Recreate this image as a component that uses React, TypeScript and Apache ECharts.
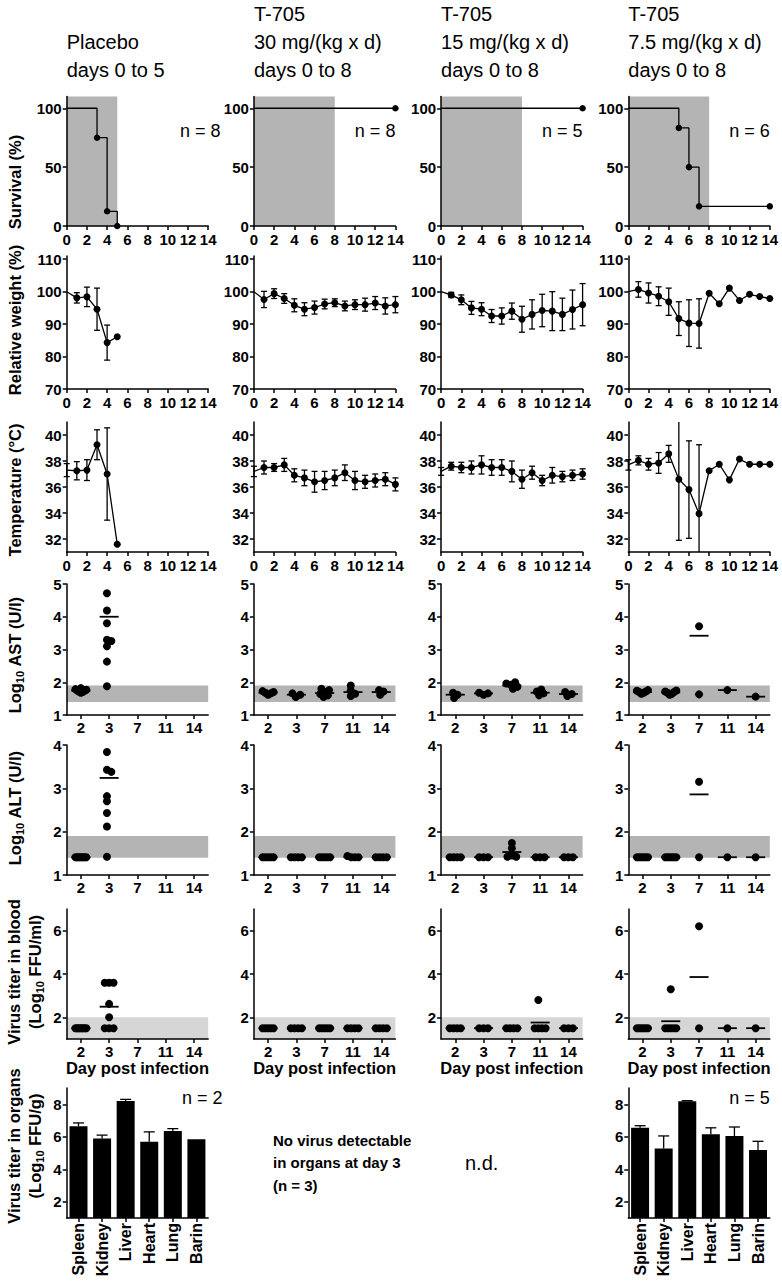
import React, { useEffect, useRef } from 'react';
import * as echarts from 'echarts';

const FONT = "'Liberation Sans', Arial, Helvetica, sans-serif";

// ---------------- data ----------------
const HEADERS = [
  ['Placebo', 'days 0 to 5'],
  ['T-705', '30 mg/(kg x d)', 'days 0 to 8'],
  ['T-705', '15 mg/(kg x d)', 'days 0 to 8'],
  ['T-705', '7.5 mg/(kg x d)', 'days 0 to 8'],
];
const GROUP_N = [8, 8, 5, 6];
const TREATMENT_END_DAY = [5, 8, 8, 8];

const SURVIVAL_PLACEBO = [[0, 100], [3, 75], [4, 12.5], [5, 0]];
const SURVIVAL_30 = [[0, 100], [14, 100]];
const SURVIVAL_15 = [[0, 100], [14, 100]];
const SURVIVAL_7_5 = [[0, 100], [5, 83.3], [6, 50], [7, 16.7], [14, 16.7]];

const DAYS_PLACEBO = [0, 1, 2, 3, 4, 5];
const DAYS_TREATED = [0, 1, 2, 3, 4, 5, 6, 7, 8, 9, 10, 11, 12, 13, 14];

const WEIGHT_PLACEBO = [100, 98.1, 98.4, 94.6, 84.3, 86.1];
const WEIGHT_PLACEBO_SD = [null, 1.6, 3.0, 6.5, 5.4, null];
const WEIGHT_30 = [100, 97.6, 99.4, 97.9, 95.8, 94.6, 95.1, 96.2, 96.6, 95.6, 96.0, 96.0, 96.5, 95.6, 96.0];
const WEIGHT_30_SD = [null, 2.5, 1.5, 1.5, 2.0, 2.0, 2.0, 1.5, 1.2, 1.5, 1.5, 2.0, 2.0, 2.5, 2.5];
const WEIGHT_15 = [100, 99.0, 97.5, 95.0, 94.6, 92.5, 92.5, 94.0, 91.5, 93.0, 94.2, 94.0, 93.0, 94.5, 96.0];
const WEIGHT_15_SD = [null, 0.8, 1.5, 2.0, 2.0, 2.0, 2.5, 2.5, 4.0, 4.5, 5.0, 6.0, 5.0, 6.0, 6.5];
const WEIGHT_7_5 = [100, 100.7, 99.6, 98.6, 96.9, 91.7, 90.3, 90.2, 99.5, 96.3, 101.1, 97.3, 99.2, 98.5, 97.9];
const WEIGHT_7_5_SD = [null, 2.4, 3.1, 2.9, 4.2, 5.2, 7.2, 7.6, null, null, null, null, null, null, null];

const TEMP_PLACEBO = [37.3, 37.25, 37.3, 39.25, 37.0, 31.6];
const TEMP_PLACEBO_SD = [0.5, 0.7, 0.8, 1.15, 3.55, null];
const TEMP_30 = [37.2, 37.5, 37.5, 37.7, 36.9, 36.7, 36.4, 36.5, 36.7, 37.1, 36.5, 36.4, 36.5, 36.6, 36.2];
const TEMP_30_SD = [0.4, 0.5, 0.3, 0.5, 0.5, 0.6, 0.8, 0.7, 0.6, 0.6, 0.7, 0.5, 0.5, 0.5, 0.5];
const TEMP_15 = [37.2, 37.6, 37.5, 37.5, 37.7, 37.5, 37.5, 37.2, 36.6, 37.1, 36.5, 36.9, 36.8, 36.9, 37.0];
const TEMP_15_SD = [0.3, 0.3, 0.4, 0.5, 0.7, 0.6, 0.6, 0.8, 0.7, 0.5, 0.4, 0.6, 0.4, 0.4, 0.4];
const TEMP_7_5 = [37.7, 38.05, 37.75, 37.85, 38.55, 36.6, 35.8, 33.95, 37.25, 37.75, 36.55, 38.15, 37.75, 37.75, 37.75];
const TEMP_7_5_SD = [0.4, 0.35, 0.45, 0.8, 0.65, 4.7, 3.75, 5.3, null, null, null, null, null, null, null];

const SAMPLE_DAYS = ['2', '3', '7', '11', '14'];

const AST_PLACEBO = [
  [1.68, 1.70, 1.72, 1.74, 1.75, 1.77, 1.79, 1.82],
  [4.72, 4.19, 3.80, 3.30, 3.26, 3.10, 2.63, 1.88],
  [], [], [],
];
const AST_PLACEBO_MEAN = [1.74, 4.0, null, null, null];
const AST_30 = [
  [1.62, 1.66, 1.68, 1.70, 1.73],
  [1.55, 1.62, 1.66],
  [1.55, 1.60, 1.64, 1.70, 1.76, 1.80],
  [1.58, 1.65, 1.75, 1.90],
  [1.62, 1.72, 1.76],
];
const AST_30_MEAN = [1.68, 1.62, 1.67, 1.70, 1.70];
const AST_15 = [
  [1.52, 1.62, 1.68],
  [1.62, 1.66, 1.68],
  [1.80, 1.86, 1.92, 1.96, 2.0],
  [1.60, 1.66, 1.72, 1.78],
  [1.58, 1.64, 1.70],
];
const AST_15_MEAN = [1.62, 1.66, 1.90, 1.68, 1.64];
const AST_7_5 = [
  [1.65, 1.68, 1.70, 1.72, 1.74, 1.76],
  [1.62, 1.65, 1.68, 1.70, 1.72, 1.75],
  [3.71, 1.63],
  [1.76],
  [1.56],
];
const AST_7_5_MEAN = [1.70, 1.69, 3.42, 1.76, 1.56];

const ALT_PLACEBO = [
  [1.41, 1.41, 1.41, 1.41, 1.41, 1.41, 1.41, 1.41],
  [3.84, 3.43, 3.38, 2.82, 2.70, 2.43, 2.12, 1.42],
  [], [], [],
];
const ALT_PLACEBO_MEAN = [1.41, 3.24, null, null, null];
const ALT_30 = [
  [1.41, 1.41, 1.41, 1.41, 1.41],
  [1.41, 1.41, 1.41, 1.41],
  [1.41, 1.41, 1.41, 1.41, 1.41],
  [1.41, 1.41, 1.44, 1.41],
  [1.41, 1.41, 1.41, 1.41],
];
const ALT_30_MEAN = [1.41, 1.41, 1.41, 1.41, 1.41];
const ALT_15 = [
  [1.41, 1.41, 1.41, 1.41],
  [1.41, 1.41, 1.41],
  [1.74, 1.62, 1.45, 1.42, 1.42],
  [1.41, 1.41, 1.41],
  [1.41, 1.41, 1.41],
];
const ALT_15_MEAN = [1.41, 1.41, 1.53, 1.41, 1.41];
const ALT_7_5 = [
  [1.41, 1.41, 1.41, 1.41, 1.41, 1.41],
  [1.41, 1.41, 1.41, 1.41, 1.41, 1.41],
  [3.15, 1.41],
  [1.41],
  [1.41],
];
const ALT_7_5_MEAN = [1.41, 1.41, 2.86, 1.41, 1.41];

const BLOOD_PLACEBO = [
  [1.5, 1.5, 1.5, 1.5, 1.5, 1.5, 1.5, 1.5],
  [3.6, 3.6, 3.6, 2.62, 2.0, 1.5, 1.5, 1.5],
  [], [], [],
];
const BLOOD_PLACEBO_MEAN = [1.5, 2.49, null, null, null];
const BLOOD_30 = [
  [1.5, 1.5, 1.5, 1.5, 1.5],
  [1.5, 1.5, 1.5, 1.5],
  [1.5, 1.5, 1.5, 1.5, 1.5],
  [1.5, 1.5, 1.5, 1.5],
  [1.5, 1.5, 1.5, 1.5],
];
const BLOOD_30_MEAN = [1.5, 1.5, 1.5, 1.5, 1.5];
const BLOOD_15 = [
  [1.5, 1.5, 1.5, 1.5],
  [1.5, 1.5, 1.5],
  [1.5, 1.5, 1.5, 1.5],
  [2.8, 1.5, 1.5, 1.5, 1.5],
  [1.5, 1.5, 1.5],
];
const BLOOD_15_MEAN = [1.5, 1.5, 1.5, 1.76, 1.5];
const BLOOD_7_5 = [
  [1.5, 1.5, 1.5, 1.5, 1.5, 1.5],
  [3.3, 1.5, 1.5, 1.5, 1.5, 1.5],
  [6.2, 1.5],
  [1.5],
  [1.5],
];
const BLOOD_7_5_MEAN = [1.5, 1.82, 3.86, 1.5, 1.5];

const ORGANS = ['Spleen', 'Kidney', 'Liver', 'Heart', 'Lung', 'Barin'];
const ORGAN_PLACEBO = [6.65, 5.9, 8.2, 5.7, 6.35, 5.85];
const ORGAN_PLACEBO_SD = [0.2, 0.2, 0.1, 0.6, 0.15, 0];
const ORGAN_7_5 = [6.56, 5.28, 8.18, 6.15, 6.05, 5.18];
const ORGAN_7_5_SD = [0.12, 0.77, 0.04, 0.4, 0.55, 0.54];
const ORGAN_N = [2, null, null, 5];

// ---------------- layout ----------------
const COL_X = [66.7, 253.9, 441.1, 628.3];
const PLOT_W = 141.5;
const ROW: Record<string, { top: number; h: number }> = {
  surv: { top: 96.5, h: 129.5 },
  weight: { top: 256, h: 133 },
  temp: { top: 422, h: 130 },
  ast: { top: 584, h: 131 },
  alt: { top: 745, h: 130 },
  blood: { top: 909, h: 130 },
  organ: { top: 1088, h: 130 },
};

function swarm(vals: number[], pxPerY: number): number[] {
  const c = 4.4;
  const placed: { x: number; y: number }[] = [];
  const out: number[] = [];
  for (const v of vals) {
    const y = v * pxPerY;
    let best = 0;
    for (let k = 0; k < 80; k++) {
      const cand = k === 0 ? 0 : (k % 2 ? 1 : -1) * Math.ceil(k / 2) * (c / 4);
      if (placed.every((p) => Math.hypot(p.x - cand, p.y - y) >= c - 1e-6)) {
        best = cand;
        break;
      }
    }
    placed.push({ x: best, y });
    out.push(best);
  }
  if (!out.length) return out;
  const mx = Math.max(...out);
  const mn = Math.min(...out);
  const span = mx - mn;
  const f = span > 11 ? 11 / span : 1;
  const mid = (mx + mn) / 2;
  return out.map((x) => (x - mid) * f);
}

function buildOption() {
  const grid: any[] = [];
  const xAxis: any[] = [];
  const yAxis: any[] = [];
  const series: any[] = [];
  const graphic: any[] = [];

  const mkAxis = (extra: any, labelExtra: any, tickExtra: any = {}) => ({
    axisLine: { show: true, onZero: false, lineStyle: { color: '#000', width: 1.5 } },
    axisTick: { show: true, length: 4, lineStyle: { color: '#000', width: 1.5 }, ...tickExtra },
    axisLabel: { show: true, color: '#000', fontFamily: FONT, fontWeight: 'bold', fontSize: 15, ...labelExtra },
    splitLine: { show: false },
    z: 10,
    ...extra,
  });
  const dayX = () => mkAxis({ type: 'value', min: 0, max: 14, interval: 2 }, { margin: 6 });
  const sampleX = () =>
    mkAxis(
      { type: 'value', min: -0.5, max: 4.5 },
      { margin: 5, customValues: [0, 1, 2, 3, 4], formatter: (v: number) => SAMPLE_DAYS[Math.round(v)] },
      { customValues: [0, 1, 2, 3, 4] }
    );
  const valY = (min: number, max: number, ticks: number[]) =>
    mkAxis({ type: 'value', min, max }, { margin: 5, customValues: ticks }, { customValues: ticks });

  const addGrid = (col: number, row: string, xa: any, ya: any) => {
    const i = grid.length;
    grid.push({ left: COL_X[col], top: ROW[row].top, width: PLOT_W, height: ROW[row].h, containLabel: false });
    xAxis.push({ gridIndex: i, ...xa });
    yAxis.push({ gridIndex: i, ...ya });
    return i;
  };

  const rectRender = (color: string) => (params: any, api: any) => {
    const p1 = api.coord([api.value(0), api.value(3)]);
    const p2 = api.coord([api.value(1), api.value(2)]);
    return { type: 'rect', shape: { x: p1[0], y: p1[1], width: p2[0] - p1[0], height: p2[1] - p1[1] }, style: { fill: color } };
  };
  const errRender = (yMin: number, yMax: number, capHalf: number, upOnly: boolean) => (params: any, api: any) => {
    const x = api.value(0);
    const lo = api.value(1);
    const hi = api.value(2);
    const a = api.coord([x, Math.max(lo, yMin)]);
    const b = api.coord([x, Math.min(hi, yMax)]);
    const st = { stroke: '#000', lineWidth: 1.3 };
    const ch: any[] = [{ type: 'line', shape: { x1: a[0], y1: a[1], x2: b[0], y2: b[1] }, style: st }];
    if (!upOnly && lo >= yMin) ch.push({ type: 'line', shape: { x1: a[0] - capHalf, y1: a[1], x2: a[0] + capHalf, y2: a[1] }, style: st });
    if (hi <= yMax) ch.push({ type: 'line', shape: { x1: b[0] - capHalf, y1: b[1], x2: b[0] + capHalf, y2: b[1] }, style: st });
    return { type: 'group', children: ch };
  };

  const addRect = (i: number, x1: number, x2: number, y1: number, y2: number, color: string) => {
    series.push({
      type: 'custom', xAxisIndex: i, yAxisIndex: i, silent: true, z: 1,
      renderItem: rectRender(color), data: [[x1, x2, y1, y2]],
    });
  };

  // ---------- survival ----------
  const survData = [SURVIVAL_PLACEBO, SURVIVAL_30, SURVIVAL_15, SURVIVAL_7_5];
  survData.forEach((d, c) => {
    const i = addGrid(c, 'surv', dayX(), valY(0, 110, [0, 50, 100]));
    addRect(i, 0, TREATMENT_END_DAY[c], 0, 110, '#b4b4b4');
    series.push({
      type: 'line', xAxisIndex: i, yAxisIndex: i, step: 'end', silent: true, z: 3,
      data: d.map((p, k) => (k === 0 ? { value: p, symbol: 'none' } : p)),
      symbol: 'circle', symbolSize: 6.5, showAllSymbol: true,
      lineStyle: { color: '#000', width: 1.3 }, itemStyle: { color: '#000', opacity: 1 },
    });
  });

  // ---------- weight & temperature ----------
  const addLineRow = (row: string, min: number, max: number, ticks: number[], sets: [number[], number[], (number | null)[]][]) => {
    sets.forEach(([days, vals, sd], c) => {
      const i = addGrid(c, row, dayX(), valY(min, max, ticks));
      const eb: number[][] = [];
      days.forEach((d, k) => {
        const s = sd[k];
        if (s != null) eb.push([d, vals[k] - s, vals[k] + s]);
      });
      series.push({
        type: 'custom', xAxisIndex: i, yAxisIndex: i, silent: true, z: 2,
        renderItem: errRender(min, max, 3, false), data: eb,
      });
      series.push({
        type: 'line', xAxisIndex: i, yAxisIndex: i, silent: true, z: 3,
        data: days.map((d, k) => (k === 0 ? { value: [d, vals[k]], symbol: 'none' } : [d, vals[k]])),
        symbol: 'circle', symbolSize: 7, showAllSymbol: true,
        lineStyle: { color: '#000', width: 1.3 }, itemStyle: { color: '#000', opacity: 1 },
      });
    });
  };
  addLineRow('weight', 70, 111, [70, 80, 90, 100, 110], [
    [DAYS_PLACEBO, WEIGHT_PLACEBO, WEIGHT_PLACEBO_SD],
    [DAYS_TREATED, WEIGHT_30, WEIGHT_30_SD],
    [DAYS_TREATED, WEIGHT_15, WEIGHT_15_SD],
    [DAYS_TREATED, WEIGHT_7_5, WEIGHT_7_5_SD],
  ]);
  addLineRow('temp', 31, 41, [32, 34, 36, 38, 40], [
    [DAYS_PLACEBO, TEMP_PLACEBO, TEMP_PLACEBO_SD],
    [DAYS_TREATED, TEMP_30, TEMP_30_SD],
    [DAYS_TREATED, TEMP_15, TEMP_15_SD],
    [DAYS_TREATED, TEMP_7_5, TEMP_7_5_SD],
  ]);

  // ---------- dot plots ----------
  const pxPerCat = PLOT_W / 5;
  const addDotRow = (row: string, min: number, max: number, ticks: number[], band: [number, number, string], sets: [number[][], (number | null)[]][]) => {
    const pxPerY = ROW[row].h / (max - min);
    sets.forEach(([groups, means], c) => {
      const i = addGrid(c, row, sampleX(), valY(min, max, ticks));
      addRect(i, -0.5, 4.5, band[0], band[1], band[2]);
      const pts: number[][] = [];
      groups.forEach((g, gi) => {
        const off = swarm(g, pxPerY);
        g.forEach((v, k) => pts.push([gi + off[k] / pxPerCat, v]));
      });
      series.push({
        type: 'scatter', xAxisIndex: i, yAxisIndex: i, silent: true, z: 4,
        symbol: 'circle', symbolSize: 8, itemStyle: { color: '#000', opacity: 1 }, data: pts,
      });
      const mdata: number[][] = [];
      means.forEach((m, gi) => { if (m != null) mdata.push([gi, m]); });
      series.push({
        type: 'scatter', xAxisIndex: i, yAxisIndex: i, silent: true, z: 5,
        symbol: 'rect', symbolSize: [19, 1.8], itemStyle: { color: '#000', opacity: 1 }, data: mdata,
      });
    });
  };
  addDotRow('ast', 1, 5, [1, 2, 3, 4, 5], [1.4, 1.9, '#b4b4b4'], [
    [AST_PLACEBO, AST_PLACEBO_MEAN], [AST_30, AST_30_MEAN], [AST_15, AST_15_MEAN], [AST_7_5, AST_7_5_MEAN],
  ]);
  addDotRow('alt', 1, 4, [1, 2, 3, 4], [1.4, 1.9, '#b4b4b4'], [
    [ALT_PLACEBO, ALT_PLACEBO_MEAN], [ALT_30, ALT_30_MEAN], [ALT_15, ALT_15_MEAN], [ALT_7_5, ALT_7_5_MEAN],
  ]);
  addDotRow('blood', 1, 7, [2, 4, 6], [1, 2, '#d6d6d6'], [
    [BLOOD_PLACEBO, BLOOD_PLACEBO_MEAN], [BLOOD_30, BLOOD_30_MEAN], [BLOOD_15, BLOOD_15_MEAN], [BLOOD_7_5, BLOOD_7_5_MEAN],
  ]);

  // ---------- organs ----------
  const organSets: [number, number[], number[]][] = [[0, ORGAN_PLACEBO, ORGAN_PLACEBO_SD], [3, ORGAN_7_5, ORGAN_7_5_SD]];
  organSets.forEach(([c, vals, sd]) => {
    const xa = mkAxis(
      { type: 'category', data: ORGANS, boundaryGap: true },
      { interval: 0, rotate: 90, fontSize: 16, margin: 5 },
      { alignWithLabel: true, interval: 0 }
    );
    const i = addGrid(c, 'organ', xa, valY(1, 9, [2, 4, 6, 8]));
    series.push({
      type: 'bar', xAxisIndex: i, yAxisIndex: i, silent: true, z: 3, clip: true,
      barWidth: 18, itemStyle: { color: '#000' }, data: vals,
    });
    const eb: number[][] = [];
    vals.forEach((v, k) => { if (sd[k] > 0) eb.push([k, v, v + sd[k]]); });
    series.push({
      type: 'custom', xAxisIndex: i, yAxisIndex: i, silent: true, z: 4,
      renderItem: errRender(1, 9, 5.5, true), data: eb,
    });
  });

  // ---------- texts ----------
  const T = (x: number, y: number, text: string, size: number, weight: string, align: string, extra: any = {}) => ({
    type: 'text', x, y, silent: true, z: 100, ...extra,
    style: {
      text, fill: '#000', fontFamily: FONT, fontSize: size, fontWeight: weight,
      align, verticalAlign: 'middle', textAlign: align, textVerticalAlign: 'middle',
      ...(extra.style || {}),
    },
  });

  HEADERS.forEach((lines, c) => {
    const ys = lines.length === 3 ? [14, 42, 70] : [42, 70];
    lines.forEach((l, k) => graphic.push(T(COL_X[c], ys[k], l, 20, 'normal', 'left')));
  });

  GROUP_N.forEach((n, c) => {
    if (c === 0) graphic.push(T(180, 131, `n = ${n}`, 18, 'normal', 'left'));
    else graphic.push(T(COL_X[c] + PLOT_W, 131, `n = ${n}`, 18, 'normal', 'right'));
  });
  ORGAN_N.forEach((n, c) => {
    if (n == null) return;
    if (c === 0) graphic.push(T(182, 1098, `n = ${n}`, 18, 'normal', 'left'));
    else graphic.push(T(COL_X[c] + PLOT_W, 1098, `n = ${n}`, 18, 'normal', 'right'));
  });

  COL_X.forEach((x) => graphic.push(T(x + PLOT_W / 2, 1068, 'Day post infection', 16.5, 'bold', 'center')));

  graphic.push(T(273, 1140, 'No virus detectable', 15, 'bold', 'left'));
  graphic.push(T(273, 1162, 'in organs at day 3', 15, 'bold', 'left'));
  graphic.push(T(273, 1185, '(n = 3)', 15, 'bold', 'left'));
  graphic.push(T(465, 1163, 'n.d.', 20, 'normal', 'left'));

  const rich = {
    b: { fontFamily: FONT, fontWeight: 'bold', fontSize: 16.5, lineHeight: 21 },
    s: { fontFamily: FONT, fontWeight: 'bold', fontSize: 11, lineHeight: 11, verticalAlign: 'bottom' },
  };
  const yTitle = (x: number, y: number, text: string) =>
    graphic.push(T(x, y, text, 16.5, 'bold', 'center', { rotation: Math.PI / 2, style: { rich } }));
  yTitle(14.5, 182, '{b|Survival (%)}');
  yTitle(14.5, 320, '{b|Relative weight (%)}');
  yTitle(14.5, 490, '{b|Temperature (°C)}');
  yTitle(14.5, 655, '{b|Log}{s|10}{b| AST (U/l)}');
  yTitle(14.5, 808, '{b|Log}{s|10}{b| ALT (U/l)}');
  yTitle(24.5, 972, '{b|Virus titer in blood}\n{b|(Log}{s|10}{b| FFU/ml)}');
  yTitle(24.5, 1146, '{b|Virus titer in organs}\n{b|(Log}{s|10}{b| FFU/g)}');

  return { animation: false, backgroundColor: '#fff', grid, xAxis, yAxis, series, graphic };
}

export default function App() {
  const ref = useRef<HTMLDivElement>(null);
  useEffect(() => {
    document.body.style.margin = '0';
    const chart = echarts.init(ref.current as HTMLDivElement, null, { renderer: 'svg' });
    chart.setOption(buildOption() as any);
    return () => chart.dispose();
  }, []);
  return <div ref={ref} style={{ width: 782, height: 1281, background: '#fff' }} />;
}
